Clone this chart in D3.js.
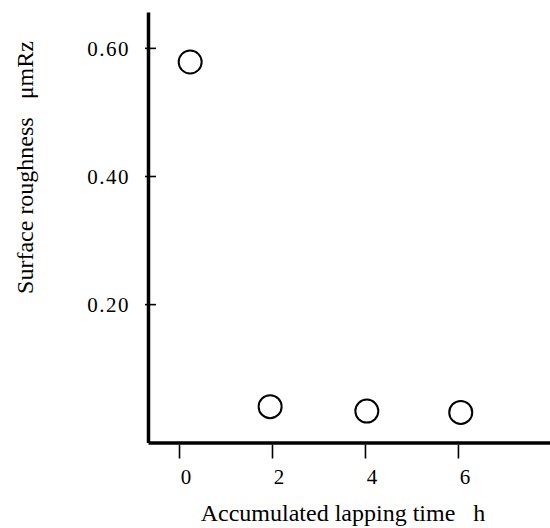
<!DOCTYPE html>
<html>
<head>
<meta charset="utf-8">
<script src="https://cdn.jsdelivr.net/npm/d3@7"></script>
<style>
    html, body { margin: 0; padding: 0; background: #fff; }
    svg { display: block; }
    text { font-family: "Liberation Serif", "Times New Roman", serif; fill: #000; }
</style>
</head>
<body>
<svg id="chart" width="550" height="528"></svg>
<script>
// data
const lapTime   = [0.24, 1.96, 4.04, 6.06];
const roughness = [0.578, 0.040, 0.033, 0.031];

const xTicks = [0, 2, 4, 6];
const yTicks = [0.20, 0.40, 0.60];

const xTitle = 'Accumulated lapping time\u00a0\u00a0\u00a0h';
const yTitle = 'Surface roughness\u00a0\u00a0\u00a0\u03bcmRz';

const width  = 550;
const height = 528;

const svg = d3.select('#chart');

// axes span the full frame, zero sits a little above the bottom line
const xScale = d3.scaleLinear().domain([-0.667, 7.98]).range([148, 550]);
const yScale = d3.scaleLinear().domain([-0.016, 0.656]).range([442.5, 12]);

const xAxis = d3.axisBottom(xScale)
    .tickValues(xTicks)
    .tickFormat(d3.format('d'))
    .tickSizeOuter(0);

const yAxis = d3.axisLeft(yScale)
    .tickValues(yTicks)
    .tickFormat(d3.format('.2f'))
    .tickSizeOuter(0);

const gx = svg.append('g')
    .attr('transform', `translate(0,${yScale.range()[0]})`)
    .call(xAxis);

gx.select('.domain')
    .attr('stroke-width', 3.5);
gx.selectAll('.tick line')
    .attr('y1', 2)
    .attr('y2', 16)
    .attr('stroke-width', 1.6);
gx.selectAll('.tick text')
    .attr('y', 34)
    .attr('dx', 7)
    .attr('dy', '0.35em')
    .attr('font-family', null)
    .attr('font-size', 21)
    .style('letter-spacing', '1px');

const gy = svg.append('g')
    .attr('transform', `translate(${xScale.range()[0]},0)`)
    .call(yAxis);

gy.select('.domain')
    .attr('stroke-width', 3.5);
gy.selectAll('.tick line')
    .attr('x1', -3)
    .attr('x2', 8)
    .attr('stroke-width', 1.6);
gy.selectAll('.tick text')
    .attr('x', -18)
    .attr('dy', '0.35em')
    .attr('font-family', null)
    .attr('font-size', 21)
    .style('letter-spacing', '1.5px');

// the measured points
svg.append('g')
    .selectAll('circle')
    .data(lapTime)
    .join('circle')
    .attr('cx', d => xScale(d))
    .attr('cy', (d, i) => yScale(roughness[i]))
    .attr('r', 11.5)
    .attr('fill', 'none')
    .attr('stroke', '#000')
    .attr('stroke-width', 2);

// axis titles
svg.append('text')
    .attr('x', 343)
    .attr('y', 521)
    .attr('text-anchor', 'middle')
    .attr('font-size', 24)
    .text(xTitle);

svg.append('text')
    .attr('transform', 'translate(33,167.5) rotate(-90)')
    .attr('text-anchor', 'middle')
    .attr('font-size', 24)
    .text(yTitle);
</script>
</body>
</html>
